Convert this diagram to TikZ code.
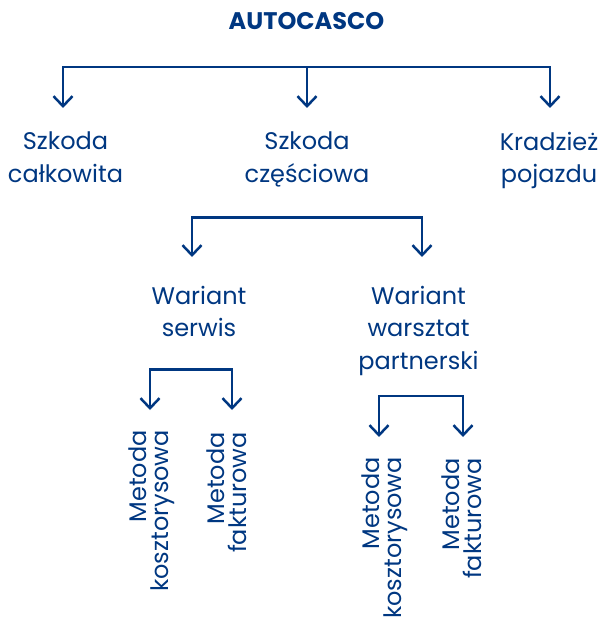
\documentclass[tikz,border=0pt]{standalone}
\usepackage{fontspec}
\setmainfont{Poppins}
\usetikzlibrary{arrows.meta}
\definecolor{azblue}{RGB}{0,55,129}
\begin{document}
\begin{tikzpicture}[x=1pt,y=-1pt,
  titlebox/.style={text=azblue, font=\bfseries\fontsize{24}{28}\selectfont, anchor=north, inner sep=0pt},
  lbl/.style={text=azblue, font=\fontsize{24}{32.5}\selectfont, align=center, anchor=north, inner sep=0pt},
  vlbl/.style={text=azblue, font=\fontsize{24}{22}\selectfont, align=right, rotate=90, anchor=north east, inner sep=0pt},
  tipstyle/.tip={Straight Barb[length=10pt,width=19pt]},
  link/.style={draw=azblue, line width=2.5pt, tipstyle-tipstyle},
  link1/.style={draw=azblue, line width=2.5pt, -tipstyle}]
\useasboundingbox (0,0) rectangle (603,617);

% texts
\node[titlebox] (root) at (306.5,12.5) {AUTOCASCO};
\node[lbl] (sc)  at (65.5,132) {Szkoda\\całkowita};
\node[lbl] (scz) at (307,132) {Szkoda\\częściowa};
\node[lbl] (kp)  at (549,132) {Kradzież\\pojazdu};
\node[lbl] (ws)  at (199,286) {Wariant\\serwis};
\node[lbl] (wwp) at (418.5,286) {Wariant\\warsztat\\partnerski};
\node[vlbl] (mk1) at (129,430) {Metoda\\kosztorysowa};
\node[vlbl] (mf1) at (207,432) {Metoda\\fakturowa};
\node[vlbl] (mk2) at (362,457) {Metoda\\kosztorysowa};
\node[vlbl] (mf2) at (442,458) {Metoda\\fakturowa};

% bracket 1
\coordinate (j1) at (307,67);
\coordinate (t1a) at (63,108);
\coordinate (t1b) at (307,108);
\coordinate (t1c) at (550,108);
\draw[link] (t1a) |- (j1) -| (t1c);
\draw[link1] (j1) -- (t1b);

% bracket 2
\coordinate (j2) at (307,217.5);
\coordinate (t2a) at (192,257);
\coordinate (t2b) at (422,257);
\draw[link] (t2a) |- (j2) -| (t2b);

% bracket 3
\coordinate (j3) at (191,369.5);
\coordinate (t3a) at (150,410);
\coordinate (t3b) at (232,410);
\draw[link] (t3a) |- (j3) -| (t3b);

% bracket 4
\coordinate (j4) at (421,396);
\coordinate (t4a) at (379,437);
\coordinate (t4b) at (463,437);
\draw[link] (t4a) |- (j4) -| (t4b);
\end{tikzpicture}
\end{document}
